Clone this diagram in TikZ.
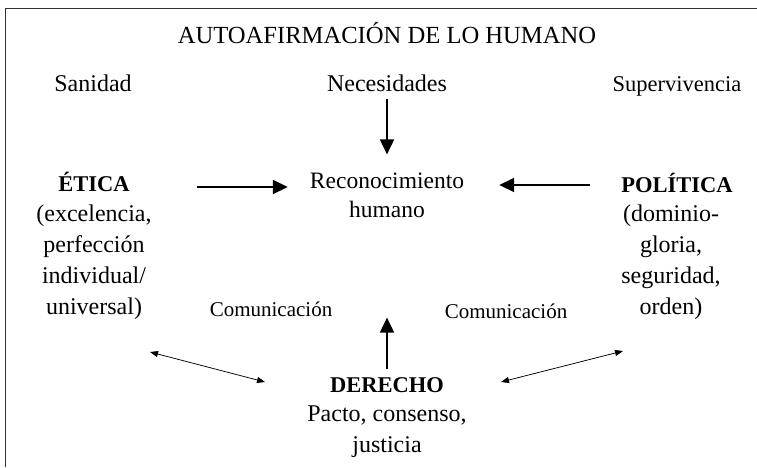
\documentclass[tikz,border=0pt]{standalone}
\usepackage{fontspec}
\setmainfont{Liberation Serif}
\usetikzlibrary{arrows.meta}
\begin{document}
\begin{tikzpicture}[x=1pt,y=-1pt,
  txt/.style={inner sep=0pt, align=center, font=\fontsize{24}{31}\selectfont},
  hd/.style={inner sep=0pt, align=center, font=\fontsize{22.5}{31}\selectfont\bfseries},
  small/.style={inner sep=0pt, font=\fontsize{21}{24}\selectfont},
  bigarrow/.style={line width=1.8pt, -{Triangle[length=15pt,width=14pt]}},
  dblarrow/.style={line width=0.75pt, {Triangle[length=8pt,width=6pt]}-{Triangle[length=8pt,width=6pt]}},
]
\useasboundingbox (0,0) rectangle (757,467);
\draw[line width=1.3pt, black!80] (5.5,467) -- (5.5,8.5) -- (757,8.5);

\node[txt, anchor=base, font=\fontsize{24.6}{28}\selectfont] (title) at (387,43) {AUTOAFIRMACIÓN DE LO HUMANO};
\node[txt, anchor=base] (san) at (93,91) {Sanidad};
\node[txt, anchor=base] (nec) at (387,91) {Necesidades};
\node[txt, anchor=base, font=\fontsize{22.5}{28}\selectfont] (sup) at (677,91) {Supervivencia};

\node[txt, font=\fontsize{23.5}{29}\selectfont] (rec) at (387,195) {Reconocimiento\\humano};

\node[hd] (eticaT) at (94,182) {ÉTICA};
\node[txt] (eticaD) at (94,262) {(excelencia,\\perfección\\individual/\\universal)};
\node[hd] (polT) at (677,183) {POLÍTICA};
\node[txt] (polD) at (671,262) {(dominio-\\gloria,\\seguridad,\\orden)};

\node[small, anchor=base] (comL) at (271,316) {Comunicación};
\node[small, anchor=base] (comR) at (506,318) {Comunicación};

\node[hd] (derT) at (387,385) {DERECHO};
\node[txt] (derD) at (387,432) {Pacto, consenso,\\justicia};

\draw[bigarrow, shorten <=8pt, shorten >=18pt] (nec.south) -- (rec.north);
\draw[bigarrow, shorten <=67pt, shorten >=22pt] ([yshift=-5pt]eticaT.east) -- ([yshift=-5pt]eticaT.east -| rec.west);
\draw[bigarrow, shorten <=31pt, shorten >=35pt] ([yshift=-2pt]polT.west) -- ([yshift=-2pt]polT.west -| rec.east);
\draw[bigarrow, shorten <=8pt, shorten >=100pt] (derT.north) -- (derT.north |- rec.south);

\coordinate (lA) at (150,352);
\coordinate (lB) at (265,382);
\coordinate (rA) at (501,382);
\coordinate (rB) at (623,351);
\draw[dblarrow] (lA) -- (lB);
\draw[dblarrow] (rA) -- (rB);
\end{tikzpicture}
\end{document}
